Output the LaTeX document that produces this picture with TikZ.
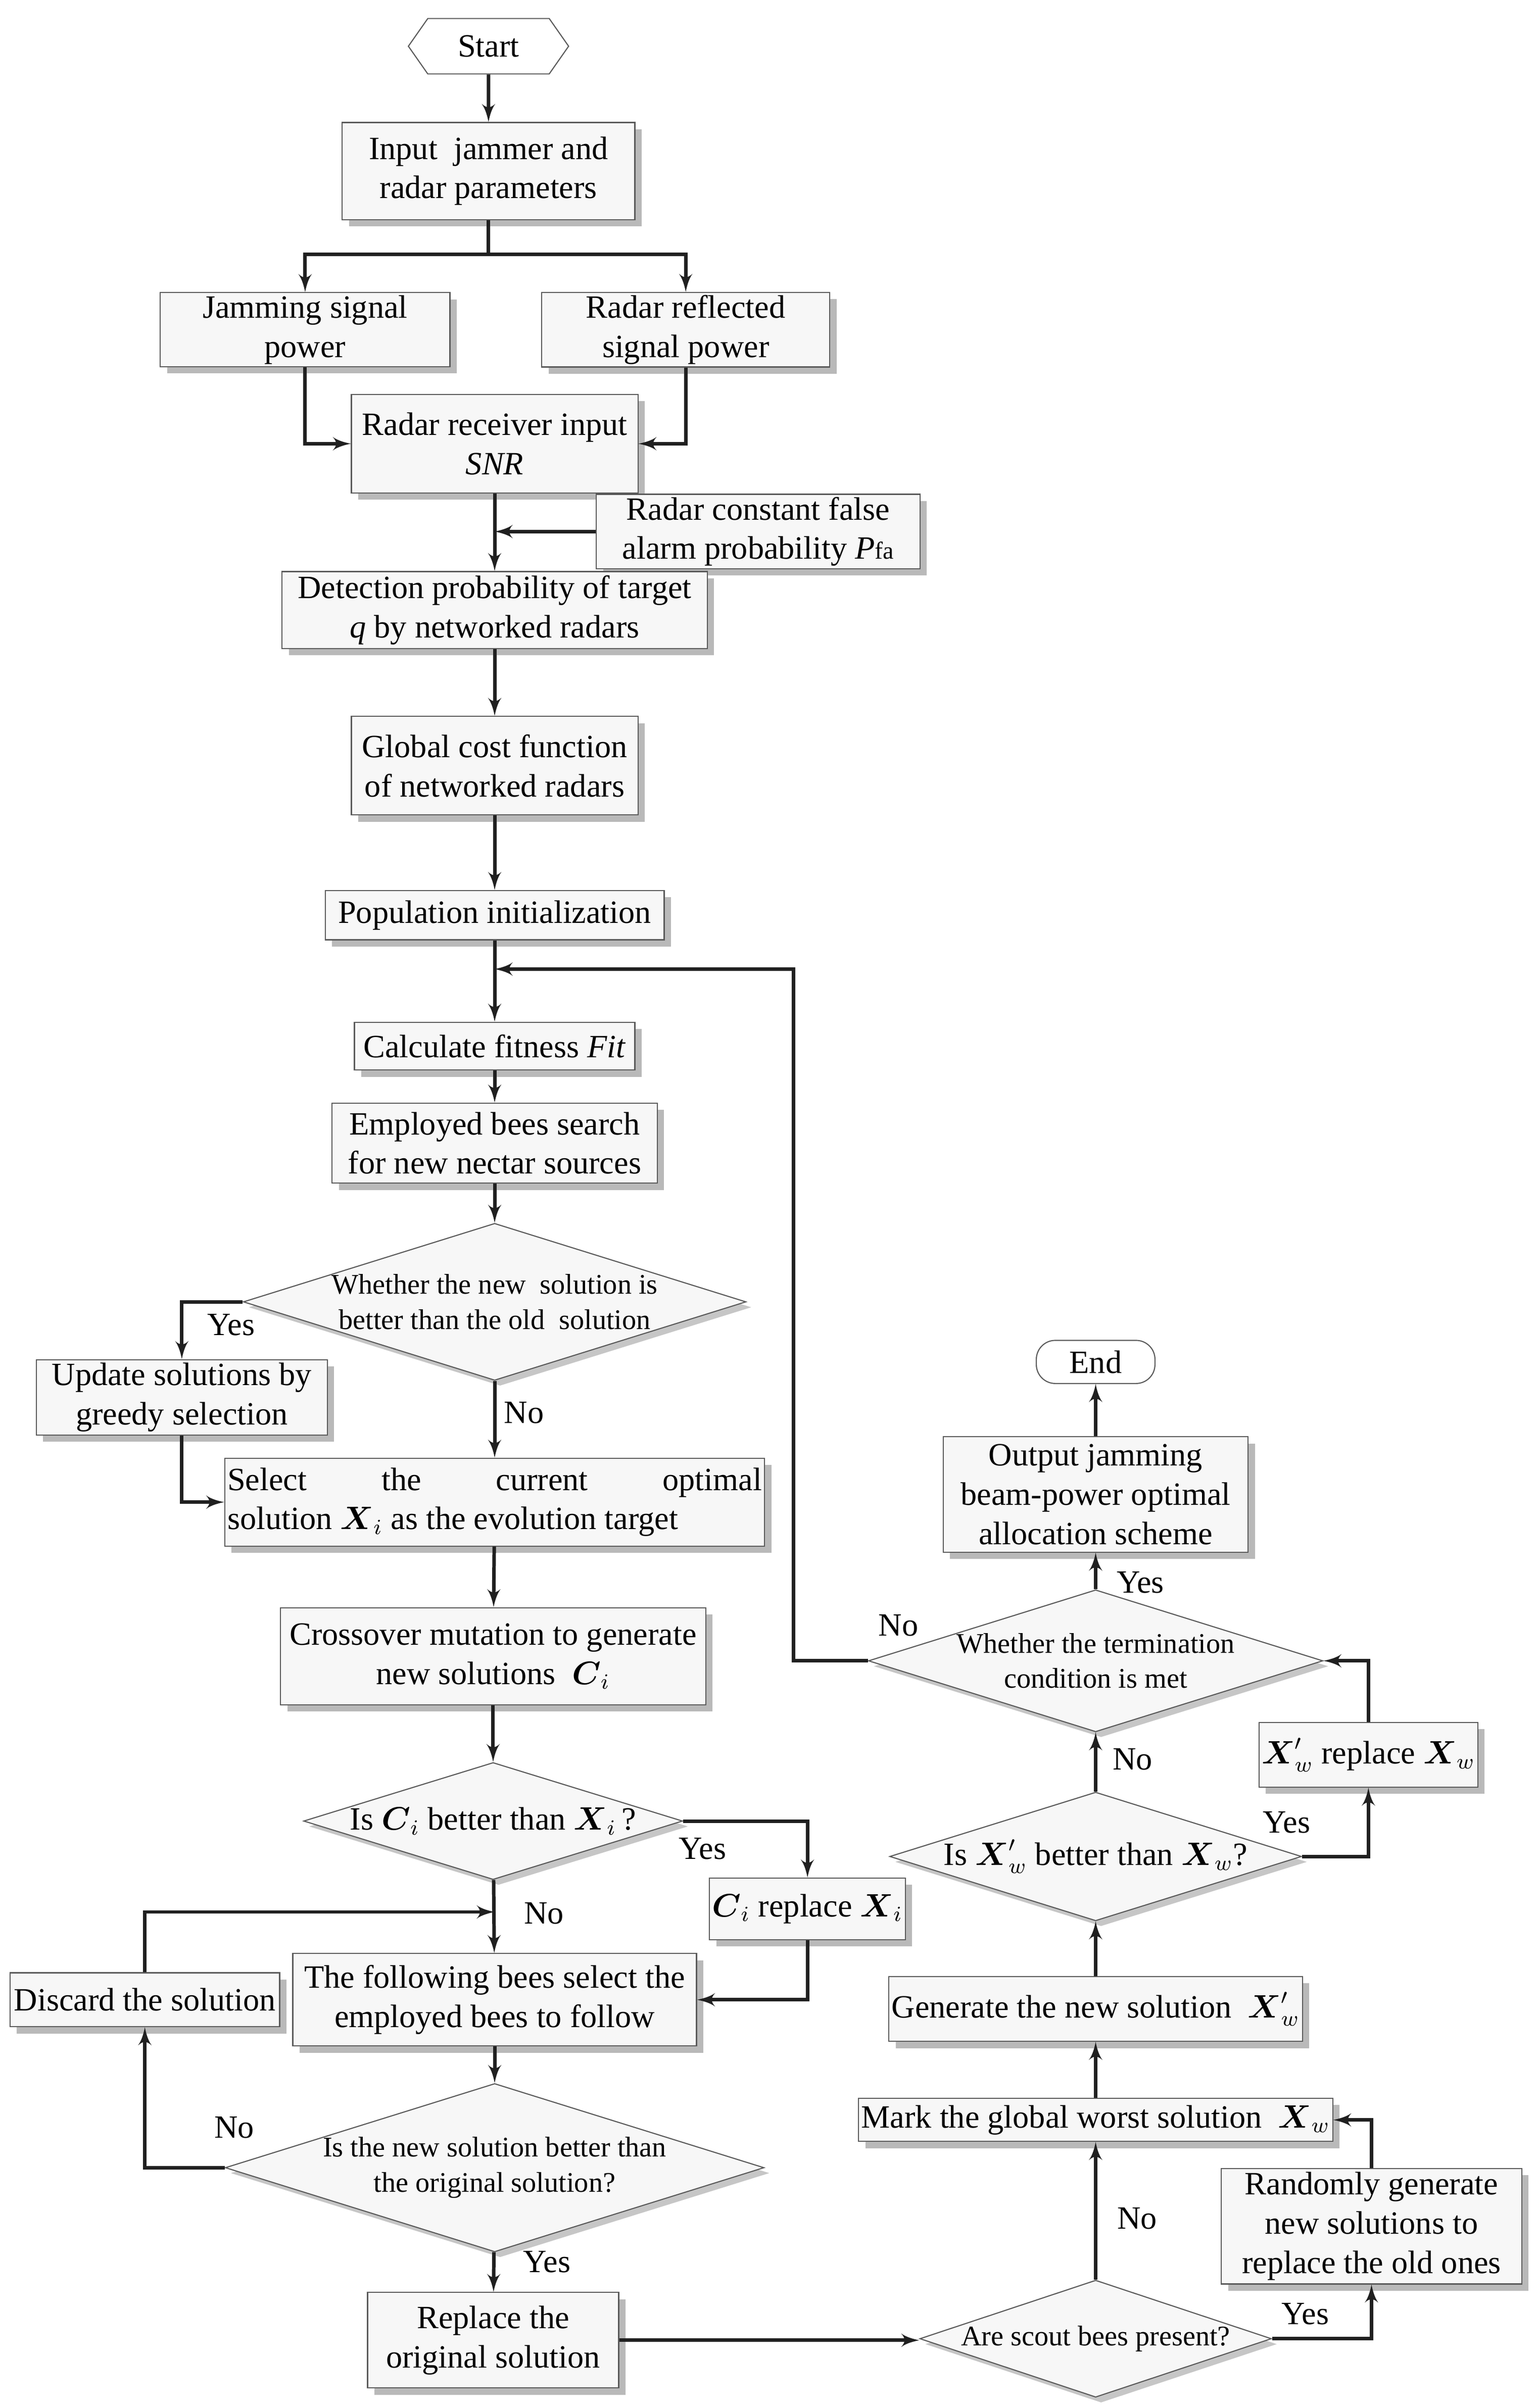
\documentclass[tikz,border=0pt]{standalone}
\usepackage{amsmath}
\usepackage{fontspec}
\setmainfont{Liberation Serif}
\usetikzlibrary{arrows,shapes,shapes.geometric,shapes.symbols,shadows,positioning}

\begin{document}
\begin{tikzpicture}[x=0.02cm,y=-0.02cm]
\fontsize{12}{14.5}\selectfont
\tikzstyle{block} = [rectangle, draw=gray!70!black, fill=gray!6, align=center,
  inner sep=1pt, drop shadow={shadow xshift=2.5pt, shadow yshift=-2.5pt, fill=gray!55, opacity=1}]
\tikzstyle{decision} = [diamond, aspect=3.2, draw=gray!70!black, fill=gray!6, align=center,
  inner sep=0pt, font=\fontsize{10.5}{13}\selectfont,
  drop shadow={shadow xshift=2pt, shadow yshift=-2pt, fill=gray!45, opacity=1}]
\tikzstyle{line} = [-latex', line width=1.3pt, draw=gray!25!black]
\tikzstyle{plain} = [line width=1.3pt, draw=gray!25!black]
\tikzstyle{lab} = [font=\fontsize{12}{14}\selectfont]

\useasboundingbox (0,0) rectangle (996.5,1563);

% boxes on the left
\node [signal, signal to=east and west, signal pointer angle=110, draw=gray!70!black, fill=white,
  minimum width=2.08cm, minimum height=0.72cm, inner sep=0pt] (start) at (317,30) {Start};
\node [block, minimum width=3.8cm, minimum height=1.26cm] (input) at (317,111) {Input\ \ jammer and\\radar parameters};
\node [block, minimum width=3.76cm, minimum height=0.9cm] (jam) at (198,214) {Jamming signal\\power};
\node [block, minimum width=3.74cm, minimum height=0.9cm] (refl) at (445,214) {Radar reflected\\signal power};
\node [block, minimum width=3.72cm, minimum height=1.28cm] (recv) at (321,288) {Radar receiver input\\\textit{SNR}};
\node [block, minimum width=4.2cm, minimum height=0.96cm] (pfa) at (492,345) {Radar constant false\\alarm probability \textit{P}{\fontsize{9}{9}\selectfont fa}};
\node [block, minimum width=5.52cm, minimum height=1cm] (detect) at (321,396) {Detection probability of target\\\textit{q} by networked radars};
\node [block, minimum width=3.72cm, minimum height=1.28cm] (cost) at (321,497) {Global cost function\\of networked radars};
\node [block, minimum width=4.4cm, minimum height=0.64cm] (pop) at (321,594) {Population initialization};
\node [block, minimum width=3.64cm, minimum height=0.62cm] (fit) at (321,679) {Calculate fitness \textit{Fit}};
\node [block, minimum width=4.22cm, minimum height=1.04cm] (employ) at (321,742) {Employed bees search\\for new nectar sources};
\node [decision, minimum width=6.48cm, minimum height=2cm] (dnew) at (321,845) {Whether the new\ \ solution is\\better than the old\ \ solution};
\node [block, minimum width=3.78cm, minimum height=0.98cm] (greedy) at (118,907) {Update solutions by\\greedy selection};
\node [block, minimum width=5.86cm, minimum height=1.14cm, align=left] (select) at (321,975) {Select\hspace{2.3em}the\hspace{2.3em}current\hspace{2.3em}optimal\\solution $\boldsymbol{X}_i$ as the evolution target};
\node [block, minimum width=5.52cm, minimum height=1.26cm] (cross) at (320,1075) {Crossover mutation to generate\\new solutions\ \ $\boldsymbol{C}_i$};
\node [decision, minimum width=4.92cm, minimum height=1.52cm, font=\fontsize{12}{14}\selectfont] (dci) at (320,1182) {Is $\boldsymbol{C}_i$ better than $\boldsymbol{X}_i$\,?};
\node [block, minimum width=2.48cm, minimum height=0.8cm] (cirep) at (524,1239) {$\boldsymbol{C}_i$ replace $\boldsymbol{X}_i$};
\node [block, minimum width=5.24cm, minimum height=1.2cm] (follow) at (321,1298) {The following bees select the\\employed bees to follow};
\node [block, minimum width=3.5cm, minimum height=0.7cm] (discard) at (94,1298) {Discard the solution};
\node [decision, minimum width=6.52cm, minimum height=1.92cm] (dorig) at (321,1407) {Is the new solution better than\\the original solution?};
\node [block, minimum width=3.26cm, minimum height=1.24cm] (replace) at (320,1519) {Replace the\\original solution};

% boxes on the right
\node [decision, minimum width=4.52cm, minimum height=1.52cm] (scout) at (711,1518) {Are scout bees present?};
\node [block, minimum width=3.9cm, minimum height=1.5cm] (random) at (890,1445) {Randomly generate\\new solutions to\\replace the old ones};
\node [block, minimum width=6.04cm, minimum height=0.56cm] (worst) at (711,1376) {Mark the global worst solution\ \ $\boldsymbol{X}_w$};
\node [block, minimum width=5.34cm, minimum height=0.84cm] (gen) at (711,1304) {Generate the new solution\ \ $\boldsymbol{X}'_w$};
\node [decision, minimum width=4.2cm, minimum height=1.52cm, font=\fontsize{12}{14}\selectfont] (dxw) at (711,1205) {Is $\boldsymbol{X}'_w$ better than $\boldsymbol{X}_w$?};
\node [block, minimum width=2.48cm, minimum height=0.84cm] (xrep) at (888,1139) {$\boldsymbol{X}'_w$ replace $\boldsymbol{X}_w$};
\node [decision, minimum width=5.88cm, minimum height=1.48cm] (term) at (711,1078) {Whether the termination\\condition is met};
\node [block, minimum width=3.96cm, minimum height=1.5cm] (output) at (711,970) {Output jamming\\beam-power optimal\\allocation scheme};
\node [rectangle, rounded corners=7pt, draw=gray!70!black, fill=white, minimum width=1.54cm,
  minimum height=0.56cm, inner sep=0pt] (end) at (711,884) {End};

% helper points
\coordinate (split) at (317,165);
\coordinate (pfain) at (321,345);
\coordinate (loopc) at (515,629);
\coordinate (loopin) at (321,629);
\coordinate (merge) at (321,1241);

% connectors
\path [line] (start) -- (input);
\path [plain] (input) -- (split);
\path [line] (split) -| (jam);
\path [line] (split) -| (refl);
\path [line] (jam) |- (recv);
\path [line] (refl) |- (recv);
\path [line] (recv) -- (detect);
\path [line] (pfa.west) -- (pfain);
\path [line] (detect) -- (cost);
\path [line] (cost) -- (pop);
\path [line] (pop) -- (fit);
\path [line] (term.west) -| (loopc) -- (loopin);
\path [line] (fit) -- (employ);
\path [line] (employ) -- (dnew);
\path [line] (dnew) -- (select);
\path [line] (dnew.west) -| (greedy);
\path [line] (greedy) |- (select);
\path [line] (select) -- (cross);
\path [line] (cross) -- (dci);
\path [line] (dci) -- (follow);
\path [line] (dci.east) -| (cirep);
\path [line] (cirep) |- (follow);
\path [line] (discard) |- (merge);
\path [line] (follow) -- (dorig);
\path [line] (dorig.west) -| (discard);
\path [line] (dorig) -- (replace);
\path [line] (replace.east) -- (replace.east -| scout.west);
\path [line] (scout) -- (worst);
\path [line] (scout.east) -| (random);
\path [line] (random) |- (worst);
\path [line] (worst) -- (gen);
\path [line] (gen) -- (dxw);
\path [line] (dxw) -- (term);
\path [line] (dxw.east) -| (xrep);
\path [line] (xrep) |- (term);
\path [line] (term) -- (output);
\path [line] (output) -- (end);

% branch labels
\node [lab] (y1) at (150,860) {Yes};
\node [lab] (n1) at (340,917) {No};
\node [lab] (y2) at (456,1200) {Yes};
\node [lab] (n2) at (353,1242) {No};
\node [lab] (n3) at (152,1381) {No};
\node [lab] (y3) at (355,1468) {Yes};
\node [lab] (n4) at (738,1440) {No};
\node [lab] (y4) at (847,1502) {Yes};
\node [lab] (n5) at (735,1142) {No};
\node [lab] (y5) at (835,1183) {Yes};
\node [lab] (y6) at (740,1027) {Yes};
\node [lab] (n6) at (583,1055) {No};
\end{tikzpicture}
\end{document}
